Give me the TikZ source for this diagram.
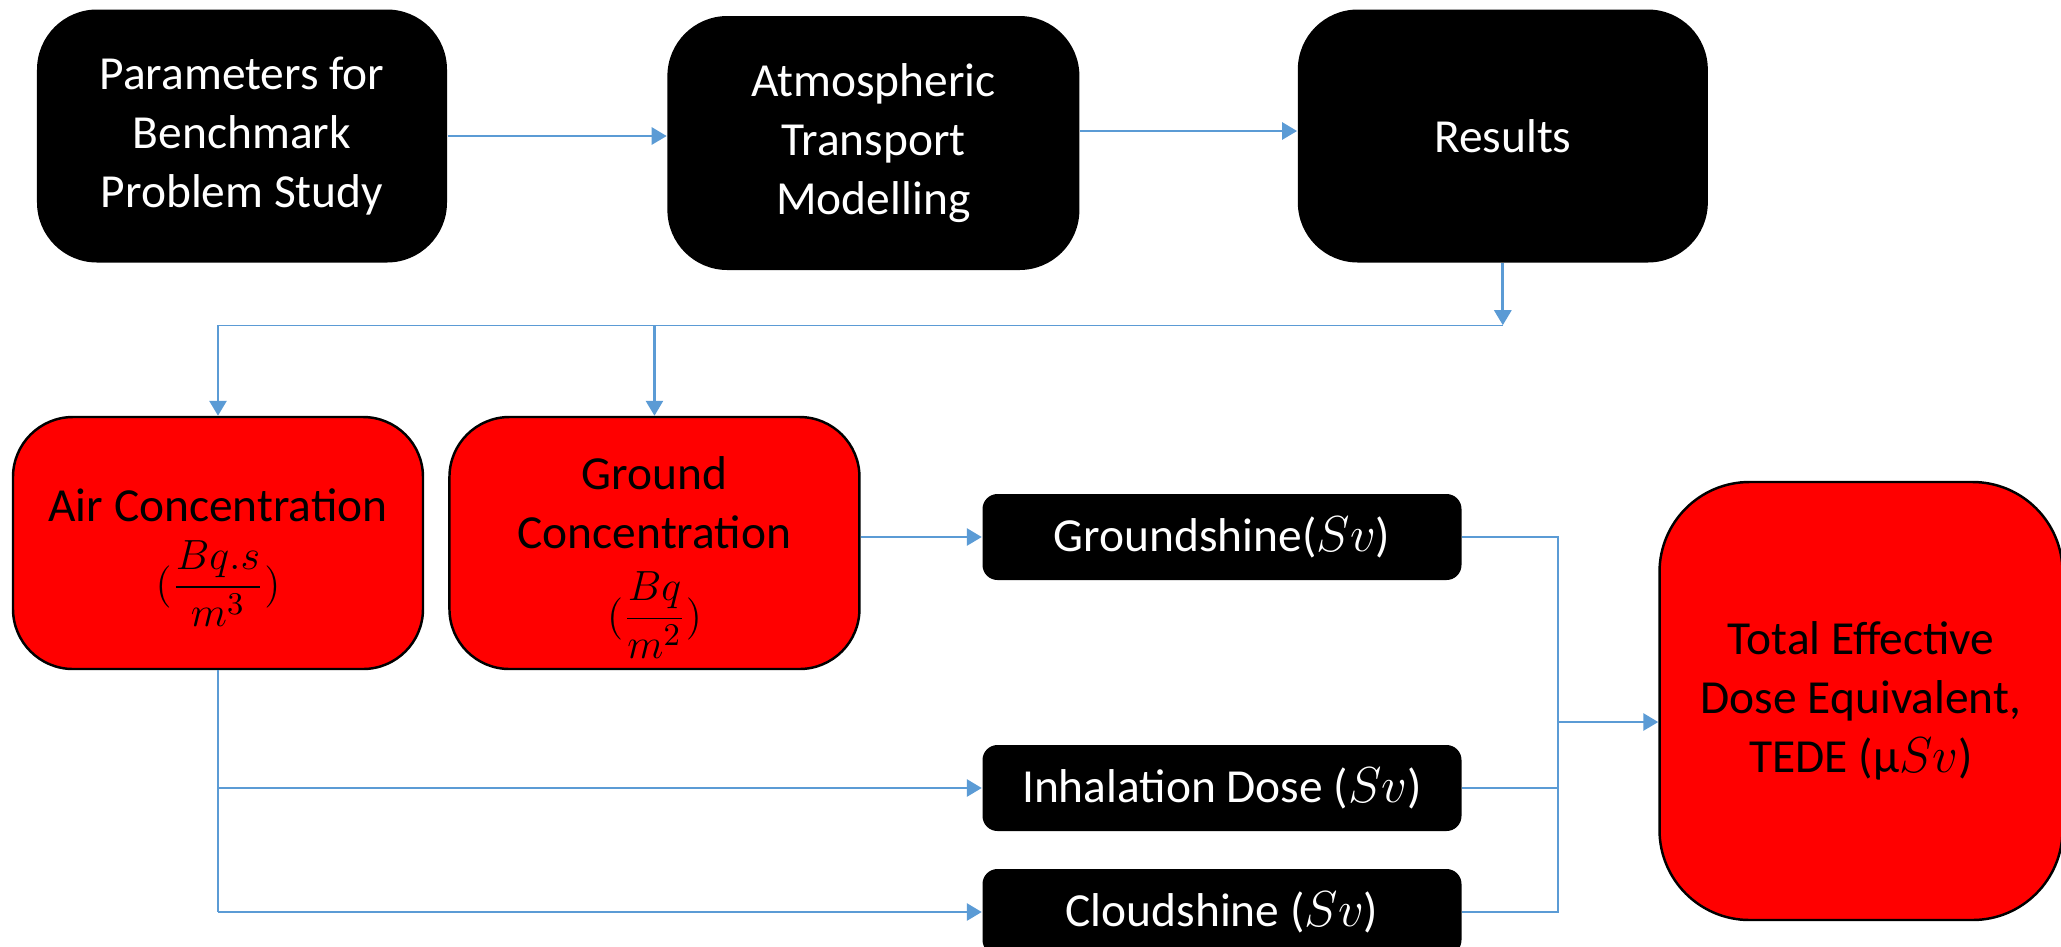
\documentclass[tikz,border=0pt]{standalone}
\usepackage{fontspec}
\setmainfont{Carlito}
\usetikzlibrary{positioning}
\usetikzlibrary{arrows.meta,calc}

\definecolor{linkblue}{HTML}{5B9BD5}

\newcommand{\unitfrac}[2]{{\fontsize{12.5}{14}\selectfont$(\displaystyle\frac{#1}{#2})$}}

\tikzset{
  bigbox/.style={rounded corners=0.6cm, minimum width=4.1cm, minimum height=2.53cm,
    align=center, inner sep=2pt, font=\fontsize{13.5}{16.8}\selectfont},
  blackbox/.style={bigbox, fill=black, text=white},
  redbox/.style={bigbox, draw=black, line width=0.7pt, fill=red, text=black},
  dosebox/.style={fill=black, text=white, rounded corners=0.15cm, minimum width=4.79cm,
    minimum height=0.86cm, font=\fontsize{13.5}{16.8}\selectfont},
  link/.style={draw=linkblue, line width=0.8pt},
  thinlink/.style={draw=linkblue, line width=0.4pt},
  arr/.style={link, -{Triangle[width=0.17cm,length=0.15cm]}},
}

\begin{document}
\begin{tikzpicture}[x=1cm, y=1cm]
 \useasboundingbox (0,0) rectangle (20.61,-9.46);

 %top row
 \node[blackbox] (params) at (2.42,-1.36) {Parameters for\\Benchmark\\Problem Study};
 \node[blackbox, minimum width=4.12cm, minimum height=2.54cm, right=2.19cm of params, yshift=-0.07cm] (atm) {Atmospheric\\Transport\\Modelling};
 \node[blackbox, right=2.17cm of atm, yshift=0.07cm] (results) {Results};

 \draw[arr] (params.east) -- (params.east -| atm.west);
 \draw[arr] (atm.east |- 0,-1.31) -- (results.west |- 0,-1.31);

 %concentrations
 \node[redbox, minimum height=2.52cm, text depth=-9pt] (air) at (2.18,-5.43) {Air Concentration\\[5pt]\unitfrac{Bq.s}{m^3}};
 \node[redbox, minimum height=2.52cm, right=0.24cm of air, text depth=-6pt] (ground) {Ground\\Concentration\\[6pt]\unitfrac{Bq}{m^2}};

 \coordinate (bus) at ($(results.south)+(0,-0.62)$);
 \draw[arr] (results.south) -- (bus);
 \draw[thinlink] (bus) -- (air.north |- bus);
 \draw[arr] (air.north |- bus) -- (air.north);
 \draw[arr] (ground.north |- bus) -- (ground.north);

 %doses
 \foreach \name/\y/\txt in {gshine/-5.37/{Groundshine($Sv$)}, inhal/-7.88/{Inhalation Dose ($Sv$)}, cloud/-9.12/{Cloudshine ($Sv$)}} {
   \node[dosebox] (\name) at (12.22,\y) {\txt};
 }

 \draw[arr] (ground.east |- gshine.west) -- (gshine.west);
 \draw[link] (air.south) -- (air.south |- cloud.west);
 \draw[arr] (air.south |- cloud.west) -- (cloud.west);
 \draw[arr] (air.south |- inhal.west) -- (inhal.west);

 %total dose
 \node[redbox, minimum width=4.03cm, minimum height=4.38cm, rounded corners=0.9cm] (tede) at (18.61,-7.01) {Total Effective\\Dose Equivalent,\\TEDE (µ$Sv$)};

 \coordinate (join) at (15.58,-7.22);
 \draw[thinlink] (gshine.east) -| (join |- cloud.east) -- (cloud.east);
 \draw[thinlink] (inhal.east) -- (inhal.east -| join);
 \draw[arr] (join) -- (join -| tede.west);

\end{tikzpicture}
\end{document}
